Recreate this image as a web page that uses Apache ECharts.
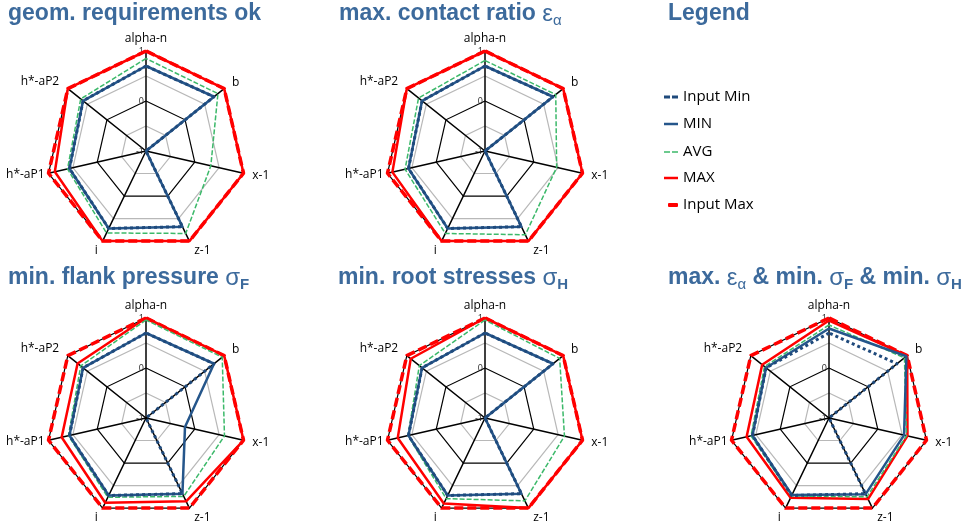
<!DOCTYPE html>
<html>
<head>
<meta charset="utf-8">
<script src="https://cdn.jsdelivr.net/npm/echarts@6/dist/echarts.min.js"></script>
<style>
html, body { margin: 0; padding: 0; background: #fff; }
#chart { width: 979px; height: 527px; }
</style>
</head>
<body>
<div id="chart"></div>
<script>
// axes clockwise from the top
const axisNames = ['alpha-n', 'b', 'x-1', 'z-1', 'i', 'h*-aP1', 'h*-aP2'];
const tickLabels = ['-1', '0', '1'];
const legendNames = ['Input Min', 'MIN', 'AVG', 'MAX', 'Input Max'];

// input limits (same in every panel)
const inputMin = [0.70, 0.74, -1, 0.68, 0.72, 0.57, 0.61];
const inputMax = [1, 1, 1, 1, 1, 1, 1];

// geom. requirements ok
const geomMin = [0.70, 0.74, -1, 0.68, 0.72, 0.57, 0.61];
const geomAvg = [0.85, 0.84, 0.33, 0.83, 0.82, 0.61, 0.67];
const geomMax = [1, 1, 1, 1, 1, 0.87, 1];

// max. contact ratio
const contactMin = [0.70, 0.74, -1, 0.68, 0.72, 0.57, 0.61];
const contactAvg = [0.81, 0.81, 0.47, 0.86, 0.83, 0.64, 0.70];
const contactMax = [1, 1, 1, 1, 1, 0.90, 1];

// min. flank pressure
const flankMin = [0.70, 0.74, -0.2, 0.68, 0.72, 0.57, 0.61];
const flankAvg = [0.96, 0.95, 0.61, 0.74, 0.76, 0.59, 0.67];
const flankMax = [1, 1, 1, 0.85, 0.88, 0.73, 0.75];

// min. root stresses
const rootMin = [0.70, 0.74, -1, 0.68, 0.72, 0.57, 0.61];
const rootAvg = [0.96, 0.91, 0.63, 0.84, 0.79, 0.58, 0.68];
const rootMax = [1, 1, 1, 1, 0.90, 0.79, 0.90];

// max. eps & min. sigF & min. sigH
const allMin = [0.79, 0.98, 0.54, 0.69, 0.71, 0.57, 0.61];
const allAvg = [0.86, 0.93, 0.59, 0.75, 0.73, 0.60, 0.65];
const allMax = [0.95, 1, 0.61, 0.80, 0.77, 0.69, 0.71];

const blue = '#3c6a9c';

const styles = {
	'Input Max': { color: '#ff0000', width: 3.5, type: [9, 4] },
	'MAX': { color: '#ff0000', width: 2.5, type: 'solid' },
	'AVG': { color: '#3cb96a', width: 1.5, type: [5, 2] },
	'MIN': { color: '#25568b', width: 2.5, type: 'solid' },
	'Input Min': { color: '#1f4a7c', width: 3, type: [3, 3] }
};

const panels = [
	{ center: [146, 151], lines: { 'Input Max': inputMax, 'MAX': geomMax, 'AVG': geomAvg, 'MIN': geomMin, 'Input Min': inputMin } },
	{ center: [485, 151], lines: { 'Input Max': inputMax, 'MAX': contactMax, 'AVG': contactAvg, 'MIN': contactMin, 'Input Min': inputMin } },
	{ center: [146, 418], lines: { 'Input Max': inputMax, 'MAX': flankMax, 'AVG': flankAvg, 'MIN': flankMin, 'Input Min': inputMin } },
	{ center: [485, 418], lines: { 'Input Max': inputMax, 'MAX': rootMax, 'AVG': rootAvg, 'MIN': rootMin, 'Input Min': inputMin } },
	{ center: [829, 418], lines: { 'Input Max': inputMax, 'MAX': allMax, 'AVG': allAvg, 'MIN': allMin, 'Input Min': inputMin } }
];

// echarts lays indicators out counter-clockwise
function ccw( arr ) {
	return [ arr[0] ].concat( arr.slice( 1 ).reverse() );
}

// distance of each axis name from its tip, same order as axisNames
const nameGaps = [6, 10, 9, 11, 11, 4, 11];

const drawOrder = ['Input Max', 'MAX', 'AVG', 'MIN', 'Input Min'];

const titleStyle = {
	fontFamily: 'Liberation Sans',
	fontWeight: 'bold',
	fontSize: 23,
	lineHeight: 28,
	color: blue,
	rich: {
		g: { fontFamily: 'Liberation Sans', fontWeight: 'normal', fontSize: 24, color: blue },
		a: { fontFamily: 'Liberation Sans', fontWeight: 'normal', fontSize: 15, lineHeight: 12, verticalAlign: 'bottom', color: blue },
		f: { fontFamily: 'Liberation Sans', fontWeight: 'bold', fontSize: 15, lineHeight: 20, verticalAlign: 'bottom', color: blue },
		h: { fontFamily: 'Liberation Sans', fontWeight: 'bold', fontSize: 15, lineHeight: 12, verticalAlign: 'bottom', color: blue }
	}
};

const titles = [
	{ text: 'geom. requirements ok', left: 8, top: 0 },
	{ text: 'max. contact ratio {g|ε}{a|α}', left: 339, top: 0 },
	{ text: 'Legend', left: 668, top: 0 },
	{ text: 'min. flank pressure {g|σ}{f|F}', left: 8, top: 264 },
	{ text: 'min. root stresses {g|σ}{h|H}', left: 338, top: 264 },
	{ text: 'max. {g|ε}{a|α} & min. {g|σ}{f|F} & min. {g|σ}{h|H}', left: 668, top: 264 }
].map( t => Object.assign( t, { padding: 0, textStyle: titleStyle } ) );

const radars = panels.map( p => ( {
	center: p.center,
	radius: 100,
	startAngle: 90,
	shape: 'polygon',
	splitNumber: 4,
	indicator: ccw( axisNames.map( ( name, k ) => {
		const ind = { name, min: -1, max: 1, nameGap: nameGaps[k] };
		if ( k === 0 ) {
			ind.axisLabel = {
				show: true,
				fontSize: 9,
				color: '#222',
				fontFamily: 'Open Sans',
				margin: 2,
				formatter: v => tickLabels.indexOf( String( v ) ) >= 0 ? String( v ) : ''
			};
		}
		return ind;
	} ) ),
	axisName: { color: '#000', fontSize: 12, fontFamily: 'Open Sans' },
	axisNameGap: 8,
	axisLine: { lineStyle: { color: '#000', width: 1.5 } },
	axisTick: { show: false },
	axisLabel: { show: false },
	splitLine: { lineStyle: { color: ['#000', '#b8b8b8'], width: 1.2 } },
	splitArea: { show: false }
} ) );

const series = panels.map( ( p, k ) => ( {
	type: 'radar',
	radarIndex: k,
	symbol: 'none',
	silent: true,
	data: drawOrder.map( name => ( {
		name,
		value: ccw( p.lines[name] ),
		lineStyle: styles[name],
		itemStyle: { color: styles[name].color }
	} ) )
} ) );

// one legend per row so each icon can have its own shape
const legendIcons = {
	'Input Min': { icon: 'path://M0,0H6V3H0Z M8,0H14V3H8Z', w: 14, h: 3 },
	'MIN': { icon: 'rect', w: 14, h: 2.5 },
	'AVG': { icon: 'path://M0,0H6V1.5H0Z M8,0H14V1.5H8Z', w: 14, h: 1.5 },
	'MAX': { icon: 'rect', w: 14, h: 2.5 },
	'Input Max': { icon: 'roundRect', w: 10, h: 4 }
};
const legendRows = [97, 124, 152, 178, 205];

const legends = legendNames.map( ( name, k ) => {
	const ic = legendIcons[name];
	return {
		left: 683 - ic.w - 5,
		top: legendRows[k] - 8,
		padding: 0,
		selectedMode: false,
		itemWidth: ic.w,
		itemHeight: ic.h,
		symbolKeepAspect: false,
		itemStyle: { borderWidth: 0 },
		textStyle: { color: '#000', fontSize: 15, fontFamily: 'Open Sans', lineHeight: 16 },
		data: [ { name, icon: ic.icon, itemStyle: { color: styles[name].color } } ]
	};
} );

const chart = echarts.init( document.getElementById( 'chart' ) );
chart.setOption( {
	backgroundColor: '#fff',
	animation: false,
	title: titles,
	legend: legends,
	radar: radars,
	series
} );
</script>
</body>
</html>
